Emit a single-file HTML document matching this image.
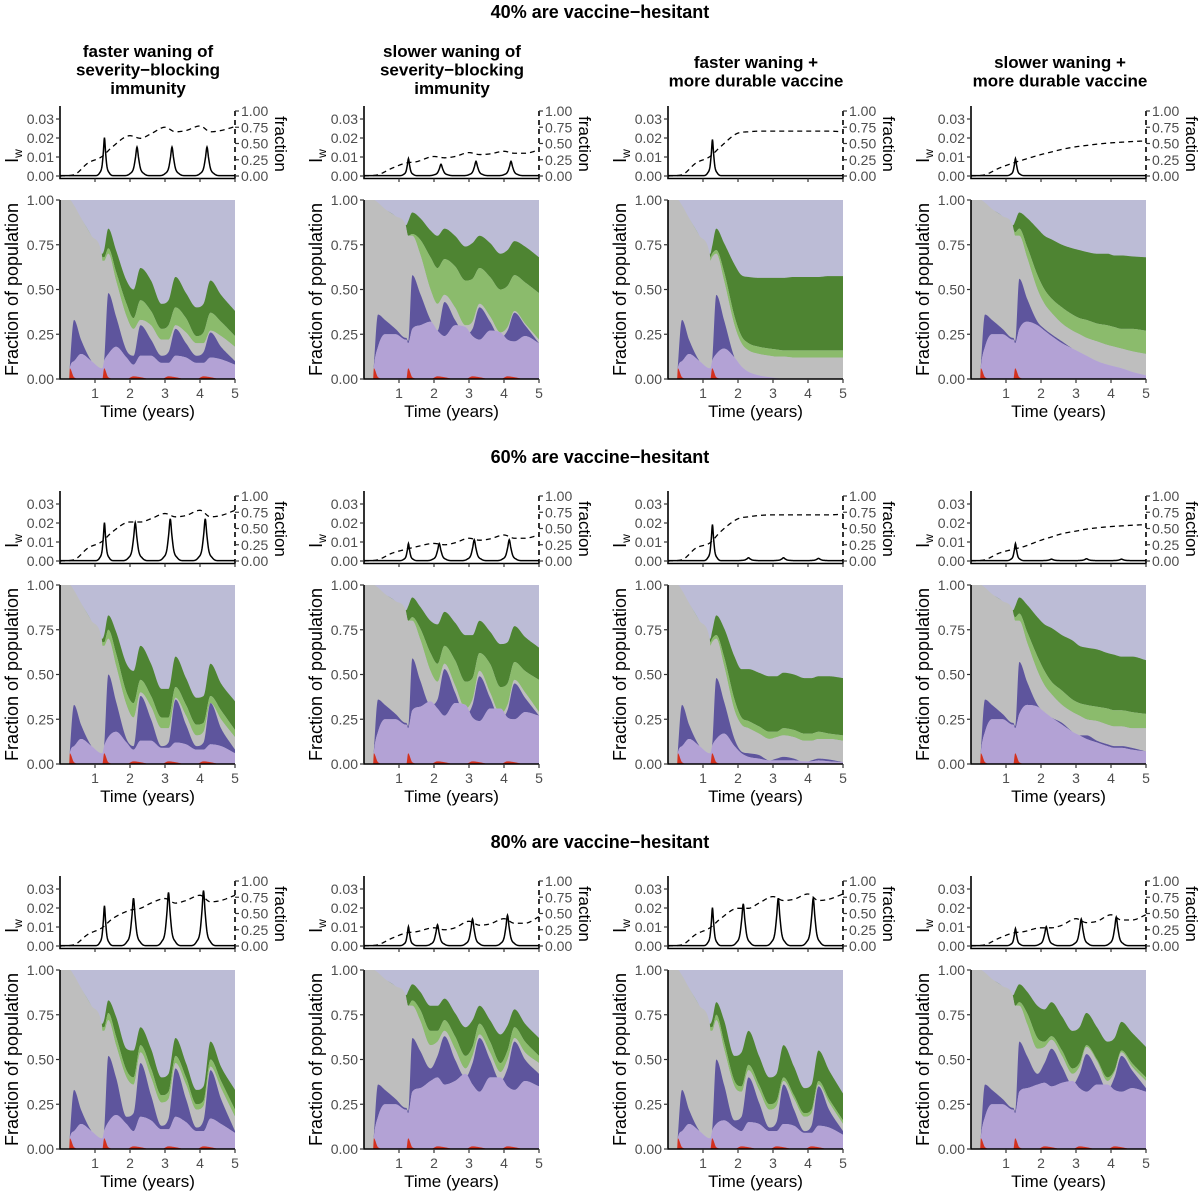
<!DOCTYPE html>
<html><head><meta charset="utf-8"><style>
body{margin:0;background:#fff}
svg{display:block;font-family:"Liberation Sans",sans-serif}
.rt{font-size:18px;font-weight:bold;text-anchor:middle}
.ch{font-size:17px;font-weight:bold;text-anchor:middle}
</style></head><body>
<svg id="chart" width="1200" height="1192" viewBox="0 0 1200 1192" xmlns="http://www.w3.org/2000/svg">
<rect width="1200" height="1192" fill="#fff"/>
<text class="rt" x="600" y="18">40% are vaccine−hesitant</text>
<text class="rt" x="600" y="463">60% are vaccine−hesitant</text>
<text class="rt" x="600" y="848">80% are vaccine−hesitant</text>
<text class="ch" x="148" y="57"><tspan x="148">faster waning of</tspan><tspan x="148" dy="18.5">severity−blocking</tspan><tspan x="148" dy="18.5">immunity</tspan></text>
<text class="ch" x="452" y="57"><tspan x="452">slower waning of</tspan><tspan x="452" dy="18.5">severity−blocking</tspan><tspan x="452" dy="18.5">immunity</tspan></text>
<text class="ch" x="756" y="68"><tspan x="756">faster waning +</tspan><tspan x="756" dy="18.5">more durable vaccine</tspan></text>
<text class="ch" x="1060" y="68"><tspan x="1060">slower waning +</tspan><tspan x="1060" dy="18.5">more durable vaccine</tspan></text>
</svg>
<script>
// ---- time grid for stacked areas ----
const T = [0,0.26,0.28,0.4,0.6,0.9,1.19,1.21,1.26,1.38,1.6,1.9,2.1,2.3,2.6,2.9,3.1,3.3,3.6,3.9,4.1,4.3,4.6,5.0];
// pre-1.2 values (first 7 grid points)
const redPre = [0,0,0.06,0.01,0,0,0];
const lpPreA = [0,0,0.06,0.10,0.14,0.10,0.06];
const dpPreA = [0,0,0.07,0.33,0.22,0.10,0.05];
const diagA  = [1,1,1,0.97,0.90,0.80,0.70];
const lpPreB = [0,0,0.06,0.18,0.25,0.25,0.22];
const dpPreB = [0,0,0.07,0.36,0.33,0.28,0.23];
const diagB  = [1,1,1,0.985,0.95,0.91,0.86];
// post values (17 grid points from 1.21)
const redPeriodic = [0,0.06,0.01,0,0,0.015,0.01,0,0,0.015,0.01,0,0,0.015,0.01,0,0];
const redSingle   = [0,0.06,0.01,0,0,0,0,0,0,0,0,0,0,0,0,0,0];

const lp_r1c1=[.06,.10,.14,.18,.12,.08,.13,.13,.09,.09,.13,.12,.09,.09,.12,.11,.08];
const dp_r1c1=[.05,.10,.48,.35,.16,.13,.30,.22,.13,.15,.28,.20,.13,.15,.26,.18,.10];
const gr_r1c1=[.66,.66,.70,.55,.35,.28,.33,.30,.22,.22,.30,.26,.20,.20,.27,.24,.18];
const lg_r1c1=[.68,.68,.73,.60,.42,.34,.44,.38,.28,.30,.40,.34,.24,.26,.37,.32,.24];
const dg_r1c1=[.70,.72,.84,.72,.55,.50,.62,.55,.42,.44,.57,.48,.40,.42,.55,.47,.38];

const lp_r1c2=[.22,.20,.28,.30,.32,.27,.24,.30,.29,.24,.22,.27,.26,.22,.21,.24,.20];
const dp_r1c2=[.23,.21,.58,.48,.33,.27,.43,.33,.25,.28,.40,.32,.23,.27,.37,.30,.20];
const gr_r1c2=[.84,.80,.80,.70,.50,.42,.47,.40,.30,.32,.42,.35,.26,.29,.38,.31,.22];
const lg_r1c2=[.84,.80,.81,.78,.68,.62,.67,.63,.55,.56,.62,.57,.50,.52,.58,.54,.48];
const dg_r1c2=[.86,.88,.93,.90,.83,.80,.84,.80,.74,.76,.80,.76,.70,.72,.77,.74,.68];

const lp_r1c3=[.06,.10,.14,.17,.12,.07,.04,.02,.01,.005,0,0,0,0,0,0,0];
const dp_r1c3=[.05,.10,.47,.33,.12,.06,.03,.01,.005,0,0,0,0,0,0,0,0];
const gr_r1c3=[.66,.68,.70,.55,.30,.20,.16,.14,.13,.125,.125,.12,.12,.12,.12,.12,.12];
const lg_r1c3=[.68,.70,.72,.60,.35,.24,.20,.18,.17,.165,.16,.16,.16,.16,.16,.16,.16];
const dg_r1c3=[.70,.74,.84,.76,.64,.58,.57,.565,.565,.565,.565,.57,.57,.57,.57,.575,.575];

const lp_r1c4=[.22,.20,.28,.32,.30,.27,.24,.20,.17,.15,.13,.10,.08,.07,.06,.04,.02];
const dp_r1c4=[.23,.21,.56,.45,.32,.28,.25,.21,.17,.15,.13,.10,.08,.07,.06,.04,.02];
const gr_r1c4=[.84,.80,.80,.68,.50,.42,.37,.31,.27,.25,.23,.21,.19,.18,.17,.155,.14];
const lg_r1c4=[.84,.82,.84,.74,.58,.50,.45,.40,.36,.34,.33,.31,.30,.29,.28,.28,.27];
const dg_r1c4=[.86,.88,.93,.90,.84,.80,.78,.75,.73,.72,.71,.70,.70,.69,.69,.685,.68];

const lp_r2c1=[.06,.10,.15,.18,.12,.08,.13,.13,.09,.09,.12,.11,.08,.08,.11,.10,.06];
const dp_r2c1=[.05,.10,.50,.35,.14,.10,.38,.25,.10,.12,.36,.22,.10,.12,.34,.20,.08];
const gr_r2c1=[.66,.66,.70,.55,.33,.26,.40,.32,.20,.20,.37,.27,.16,.18,.34,.25,.15];
const lg_r2c1=[.68,.68,.75,.62,.40,.34,.47,.38,.26,.26,.43,.33,.22,.23,.38,.30,.19];
const dg_r2c1=[.70,.72,.83,.74,.56,.52,.66,.56,.42,.42,.60,.48,.37,.38,.56,.45,.35];

const lp_r2c2=[.22,.20,.30,.32,.35,.31,.27,.34,.33,.26,.24,.31,.31,.26,.25,.29,.27];
const dp_r2c2=[.23,.21,.59,.47,.33,.36,.53,.40,.27,.33,.49,.37,.25,.30,.45,.37,.27];
const gr_r2c2=[.84,.80,.80,.70,.52,.46,.56,.44,.31,.36,.52,.40,.28,.33,.47,.40,.29];
const lg_r2c2=[.84,.80,.82,.76,.62,.56,.66,.58,.46,.48,.62,.56,.43,.45,.57,.52,.47];
const dg_r2c2=[.86,.88,.93,.88,.80,.78,.85,.79,.72,.72,.80,.74,.67,.68,.77,.71,.65];

const lp_r2c3=[.06,.10,.14,.17,.10,.06,.04,.03,.02,.02,.02,.02,.015,.015,.02,.015,.01];
const dp_r2c3=[.05,.10,.48,.35,.14,.07,.06,.05,.02,.03,.04,.03,.01,.02,.03,.025,.01];
const gr_r2c3=[.66,.68,.70,.55,.30,.22,.20,.17,.14,.15,.16,.15,.13,.13,.14,.14,.13];
const lg_r2c3=[.68,.70,.72,.60,.36,.26,.24,.21,.18,.18,.20,.19,.17,.17,.18,.17,.16];
const dg_r2c3=[.70,.74,.83,.76,.60,.53,.53,.51,.49,.49,.51,.50,.48,.48,.49,.49,.48];

const lp_r2c4=[.22,.20,.28,.33,.32,.29,.26,.22,.18,.16,.14,.12,.10,.09,.09,.08,.07];
const dp_r2c4=[.23,.21,.57,.46,.33,.29,.26,.23,.18,.16,.16,.13,.11,.10,.10,.09,.07];
const gr_r2c4=[.84,.80,.80,.68,.52,.44,.39,.33,.29,.27,.25,.24,.22,.21,.21,.20,.20];
const lg_r2c4=[.84,.82,.84,.74,.60,.52,.46,.41,.36,.34,.33,.32,.31,.30,.30,.29,.28];
const dg_r2c4=[.86,.88,.93,.89,.82,.78,.76,.72,.69,.66,.65,.64,.62,.61,.60,.60,.58];

const lp_r3c1=[.06,.10,.15,.19,.14,.10,.18,.16,.11,.11,.18,.15,.10,.10,.17,.14,.09];
const dp_r3c1=[.05,.10,.52,.40,.18,.20,.48,.30,.13,.17,.45,.28,.12,.16,.44,.28,.10];
const gr_r3c1=[.66,.66,.72,.58,.40,.36,.54,.40,.26,.28,.48,.36,.22,.24,.46,.34,.18];
const lg_r3c1=[.68,.68,.76,.63,.44,.40,.58,.45,.30,.32,.52,.40,.25,.27,.50,.38,.22];
const dg_r3c1=[.70,.72,.83,.74,.56,.55,.68,.56,.40,.42,.62,.48,.33,.35,.60,.46,.33];

const lp_r3c2=[.22,.20,.32,.34,.38,.40,.36,.38,.42,.36,.32,.40,.40,.35,.33,.38,.35];
const dp_r3c2=[.23,.21,.62,.55,.45,.52,.63,.50,.40,.48,.62,.50,.38,.45,.60,.50,.42];
const gr_r3c2=[.84,.80,.80,.72,.58,.60,.66,.56,.45,.52,.64,.54,.43,.50,.62,.54,.48];
const lg_r3c2=[.84,.80,.83,.78,.66,.66,.72,.63,.52,.57,.70,.60,.48,.55,.68,.60,.52];
const dg_r3c2=[.86,.88,.92,.88,.80,.80,.84,.76,.68,.72,.80,.72,.64,.69,.78,.70,.62];

const lp_r3c3=[.06,.10,.14,.16,.12,.10,.15,.14,.10,.10,.14,.13,.09,.09,.13,.12,.08];
const dp_r3c3=[.05,.10,.50,.36,.16,.18,.40,.26,.12,.15,.36,.22,.10,.13,.35,.22,.10];
const gr_r3c3=[.66,.66,.72,.56,.35,.32,.44,.33,.22,.24,.38,.28,.18,.20,.36,.26,.14];
const lg_r3c3=[.68,.68,.75,.60,.38,.35,.47,.36,.25,.27,.40,.30,.20,.22,.38,.28,.16];
const dg_r3c3=[.70,.72,.82,.72,.52,.54,.66,.52,.40,.42,.58,.46,.34,.36,.55,.44,.31];

const lp_r3c4=[.22,.20,.32,.34,.36,.37,.35,.37,.38,.34,.32,.36,.36,.33,.32,.34,.32];
const dp_r3c4=[.23,.21,.60,.52,.42,.48,.56,.46,.36,.42,.53,.44,.33,.40,.52,.44,.34];
const gr_r3c4=[.84,.80,.80,.70,.56,.57,.61,.52,.42,.46,.57,.49,.38,.43,.54,.46,.38];
const lg_r3c4=[.84,.80,.82,.76,.62,.60,.63,.55,.45,.48,.58,.50,.40,.44,.55,.48,.40];
const dg_r3c4=[.86,.88,.92,.88,.80,.78,.82,.74,.66,.68,.76,.68,.60,.62,.71,.65,.57];

// ---- top plots: I_w peaks (time, height) and fraction (dashed) ----
const peakShapeOffsets = [-0.36,-0.2,-0.1,-0.045,0,0.045,0.1,0.2,0.36];
const peakShapeRel     = [0,0.07,0.25,0.62,1,0.62,0.25,0.07,0];
const pkT_r1c1=[1.27,2.2,3.2,4.2], pkH_r1c1=[.020,.015,.015,.015];
const pkT_r1c2=[1.27,2.2,3.2,4.2], pkH_r1c2=[.009,.006,.0075,.0075];
const pkT_r1c3=[1.27], pkH_r1c3=[.019];
const pkT_r1c4=[1.27], pkH_r1c4=[.009];
const pkT_r2c1=[1.27,2.15,3.15,4.15], pkH_r2c1=[.020,.020,.022,.022];
const pkT_r2c2=[1.27,2.15,3.15,4.15], pkH_r2c2=[.009,.009,.011,.011];
const pkT_r2c3=[1.27,2.3,3.3,4.3], pkH_r2c3=[.019,.0015,.0015,.0012];
const pkT_r2c4=[1.27,2.3,3.3,4.3], pkH_r2c4=[.009,.0008,.001,.0008];
const pkT_r3c1=[1.27,2.1,3.1,4.1], pkH_r3c1=[.021,.025,.028,.029];
const pkT_r3c2=[1.27,2.1,3.1,4.1], pkH_r3c2=[.010,.011,.014,.016];
const pkT_r3c3=[1.27,2.15,3.15,4.15], pkH_r3c3=[.020,.022,.025,.025];
const pkT_r3c4=[1.27,2.15,3.15,4.15], pkH_r3c4=[.009,.010,.014,.015];

const TF = [0,0.4,0.8,1.2,1.5,2.0,2.3,2.6,3.0,3.3,3.6,4.0,4.3,4.6,5.0];
const fr_r1c1=[0,.02,.2,.3,.45,.62,.58,.65,.75,.68,.70,.77,.68,.70,.76];
const fr_r1c2=[0,.02,.12,.2,.22,.3,.28,.30,.36,.33,.34,.38,.35,.35,.40];
const fr_r1c3=[0,.02,.2,.3,.45,.66,.68,.69,.69,.69,.69,.69,.69,.69,.68];
const fr_r1c4=[0,.02,.12,.2,.25,.33,.37,.41,.45,.47,.49,.51,.52,.53,.54];
const fr_r2c1=[0,.02,.2,.3,.45,.6,.6,.65,.73,.68,.70,.78,.68,.70,.78];
const fr_r2c2=[0,.02,.12,.18,.22,.27,.25,.28,.35,.32,.34,.40,.35,.35,.40];
const fr_r2c3=[0,.02,.2,.28,.45,.65,.68,.70,.71,.71,.71,.71,.71,.71,.72];
const fr_r2c4=[0,.02,.12,.18,.22,.32,.37,.42,.46,.49,.51,.53,.54,.55,.56];
const fr_r3c1=[0,.02,.18,.28,.42,.55,.58,.66,.73,.66,.70,.78,.68,.70,.78];
const fr_r3c2=[0,.02,.12,.2,.22,.28,.25,.28,.38,.32,.34,.42,.35,.35,.45];
const fr_r3c3=[0,.02,.18,.28,.42,.58,.58,.66,.76,.70,.72,.80,.70,.72,.80];
const fr_r3c4=[0,.02,.12,.2,.22,.28,.28,.32,.42,.36,.38,.48,.40,.40,.48];

const mainTicks = [0,0.25,0.5,0.75,1];
const mainTickLabels = ["0.00","0.25","0.50","0.75","1.00"];
const iwTicks = [0,0.01,0.02,0.03];
const iwTickLabels = ["0.00","0.01","0.02","0.03"];
const frTickLabels = ["0.00","0.25","0.50","0.75","1.00"];
const timeTicks = [1,2,3,4,5];

const panels = [
 [lp_r1c1,dp_r1c1,gr_r1c1,lg_r1c1,dg_r1c1,pkT_r1c1,pkH_r1c1,fr_r1c1],
 [lp_r1c2,dp_r1c2,gr_r1c2,lg_r1c2,dg_r1c2,pkT_r1c2,pkH_r1c2,fr_r1c2],
 [lp_r1c3,dp_r1c3,gr_r1c3,lg_r1c3,dg_r1c3,pkT_r1c3,pkH_r1c3,fr_r1c3],
 [lp_r1c4,dp_r1c4,gr_r1c4,lg_r1c4,dg_r1c4,pkT_r1c4,pkH_r1c4,fr_r1c4],
 [lp_r2c1,dp_r2c1,gr_r2c1,lg_r2c1,dg_r2c1,pkT_r2c1,pkH_r2c1,fr_r2c1],
 [lp_r2c2,dp_r2c2,gr_r2c2,lg_r2c2,dg_r2c2,pkT_r2c2,pkH_r2c2,fr_r2c2],
 [lp_r2c3,dp_r2c3,gr_r2c3,lg_r2c3,dg_r2c3,pkT_r2c3,pkH_r2c3,fr_r2c3],
 [lp_r2c4,dp_r2c4,gr_r2c4,lg_r2c4,dg_r2c4,pkT_r2c4,pkH_r2c4,fr_r2c4],
 [lp_r3c1,dp_r3c1,gr_r3c1,lg_r3c1,dg_r3c1,pkT_r3c1,pkH_r3c1,fr_r3c1],
 [lp_r3c2,dp_r3c2,gr_r3c2,lg_r3c2,dg_r3c2,pkT_r3c2,pkH_r3c2,fr_r3c2],
 [lp_r3c3,dp_r3c3,gr_r3c3,lg_r3c3,dg_r3c3,pkT_r3c3,pkH_r3c3,fr_r3c3],
 [lp_r3c4,dp_r3c4,gr_r3c4,lg_r3c4,dg_r3c4,pkT_r3c4,pkH_r3c4,fr_r3c4]
];

const NS = "http://www.w3.org/2000/svg";
const svg = document.getElementById('chart');
const COLX = [60,364,668,971], PW = 175, PH = 179, ROWY = [200,585,970];

function mono(xs, ys) {
  const n = xs.length, d = [], m = new Array(n);
  for (let i=0;i<n-1;i++) d.push((ys[i+1]-ys[i])/(xs[i+1]-xs[i]));
  m[0]=d[0]; m[n-1]=d[n-2];
  for (let i=1;i<n-1;i++) m[i] = (d[i-1]*d[i]<=0) ? 0 : (d[i-1]+d[i])/2;
  for (let i=0;i<n-1;i++) {
    if (d[i]===0) { m[i]=0; m[i+1]=0; continue; }
    const a=m[i]/d[i], b=m[i+1]/d[i], s=a*a+b*b;
    if (s>9) { const t=3/Math.sqrt(s); m[i]=t*a*d[i]; m[i+1]=t*b*d[i]; }
  }
  return function(x) {
    let i=0; while (i<n-2 && x>xs[i+1]) i++;
    const h=xs[i+1]-xs[i], t=Math.min(1,Math.max(0,(x-xs[i])/h));
    const t2=t*t, t3=t2*t;
    return (2*t3-3*t2+1)*ys[i]+(t3-2*t2+t)*h*m[i]+(-2*t3+3*t2)*ys[i+1]+(t3-t2)*h*m[i+1];
  };
}
function mk(tag, attrs, parent) {
  const el = document.createElementNS(NS, tag);
  for (const k in attrs) el.setAttribute(k, attrs[k]);
  (parent||svg).appendChild(el);
  return el;
}
function txt(str, x, y, size, fill, anchor, name, extra) {
  const el = mk('text', {x:x, y:y, 'font-size':size, fill:fill, 'text-anchor':anchor}, null);
  
  
  if (extra) for (const k in extra) el.setAttribute(k, extra[k]);
  el.textContent = str;
  return el;
}
const SAMPLES = [];
for (let i=0;i<=500;i++) SAMPLES.push(i/100);
SAMPLES.push(0.265,0.275,1.195,1.205); SAMPLES.sort((a,b)=>a-b);

panels.forEach((p, idx) => {
  const r = Math.floor(idx/4), c = idx%4;
  const typeA = (c===0 || c===2);
  const periodic = !(c===2 || c===3) || r===2;
  const x0 = COLX[c], x1 = x0+PW, yT = ROWY[r], yB = yT+PH;
  const sx = t => x0 + t/5*PW;
  const sy = v => yB - v*PH;
  const g = mk('g', {});
  
  

  const diag = typeA ? diagA : diagB;
  const redA = redPre.concat(periodic ? redPeriodic : redSingle);
  const lpA = (typeA?lpPreA:lpPreB).concat(p[0]);
  const dpA = (typeA?dpPreA:dpPreB).concat(p[1]);
  const grA = diag.concat(p[2]);
  const lgA = diag.concat(p[3]);
  const dgA = diag.concat(p[4]);
  const fs = [redA, lpA, dpA, grA, lgA, dgA].map(a => mono(T, a));
  const vals = SAMPLES.map(t => fs.map(f => Math.max(0, Math.min(1, f(t)))));
  vals.forEach(v => { for (let k=1;k<v.length;k++) if (v[k]<v[k-1]) v[k]=v[k-1]; });

  const bg = mk('rect', {x:x0, y:yT, width:PW, height:PH, fill:'#bcbcd6'}, g);
  
  
  const layers = [
    ['area-dark-green', 4, 5, '#4e8432'],
    ['area-light-green', 3, 4, '#8bbb6c'],
    ['area-grey', 2, 3, '#bebebe'],
    ['area-dark-purple', 1, 2, '#5e559d'],
    ['area-light-purple', 0, 1, '#b3a2d5'],
    ['area-red', -1, 0, '#d3301e']
  ];
  layers.forEach(L => {
    let d = '';
    SAMPLES.forEach((t,i) => { d += (i?'L':'M') + sx(t).toFixed(2) + ',' + sy(vals[i][L[2]]).toFixed(2); });
    for (let i=SAMPLES.length-1;i>=0;i--) {
      const lo = L[1] < 0 ? 0 : vals[i][L[1]];
      d += 'L' + sx(SAMPLES[i]).toFixed(2) + ',' + sy(lo).toFixed(2);
    }
    const path = mk('path', {d:d+'Z', fill:L[3]}, g);
    
    
  });
  const ax = mk('path', {d:`M${x0},${yT}V${yB}H${x1}`, stroke:'#000', 'stroke-width':1.6, fill:'none'}, g);
  
  
  mainTicks.forEach((v,i) => {
    const tk = mk('line', {x1:x0-4, x2:x0, y1:sy(v), y2:sy(v), stroke:'#333', 'stroke-width':1.2}, g);
    
    
    txt(mainTickLabels[i], x0-6, sy(v)+5, 14, '#4d4d4d', 'end', 'y-tick-label');
  });
  timeTicks.forEach(t => {
    const tk = mk('line', {x1:sx(t), x2:sx(t), y1:yB, y2:yB+4, stroke:'#333', 'stroke-width':1.2}, g);
    
    
    txt(String(t), sx(t), yB+19, 14, '#4d4d4d', 'middle', 'x-tick-label');
  });
  txt('Time (years)', x0+PW/2, yB+38, 17, '#000', 'middle', 'x-axis-title');
  txt('Fraction of population', 0, 0, 18, '#000', 'middle', 'y-axis-title',
      {transform:`translate(${x0-42},${yT+PH/2}) rotate(-90)`});

  // ---- top plot ----
  const iy0 = yT-24, iy = v => iy0 - v*1900, fy = v => iy0 - v*65;
  const pkT = p[5], pkH = p[6];
  const pts = [[0,0.0002]];
  pkT.forEach((tp,k) => peakShapeOffsets.forEach((o,j) => pts.push([tp+o*(k===0?0.7:1), 0.0002+pkH[k]*peakShapeRel[j]])));
  pts.push([5,0.0002]);
  pts.sort((a,b)=>a[0]-b[0]);
  const ivf = mono(pts.map(q=>q[0]), pts.map(q=>q[1]));
  let di = '';
  SAMPLES.forEach((t,i) => { di += (i?'L':'M') + sx(t).toFixed(2) + ',' + iy(Math.max(0,ivf(t))).toFixed(2); });
  const ffn = mono(TF, p[7]);
  let df = '';
  SAMPLES.forEach((t,i) => { df += (i?'L':'M') + sx(t).toFixed(2) + ',' + fy(Math.max(0,ffn(t))).toFixed(2); });
  const fl = mk('path', {d:df, stroke:'#000', 'stroke-width':1.3, fill:'none', 'stroke-dasharray':'5,4'}, g);
  
  
  const il = mk('path', {d:di, stroke:'#000', 'stroke-width':1.5, fill:'none'}, g);
  
  
  const tax = mk('path', {d:`M${x0},${iy0-70}V${iy0+2.5}H${x1}`, stroke:'#000', 'stroke-width':1.6, fill:'none'}, g);
  
  
  const rax = mk('line', {x1:x1, x2:x1, y1:fy(1), y2:iy0+2.5, stroke:'#000', 'stroke-width':1.6, 'stroke-dasharray':'5,4'}, g);
  
  
  iwTicks.forEach((v,i) => {
    const tk = mk('line', {x1:x0-4, x2:x0, y1:iy(v), y2:iy(v), stroke:'#333', 'stroke-width':1.2}, g);
    
    
    txt(iwTickLabels[i], x0-6, iy(v)+5, 14, '#4d4d4d', 'end', 'iw-tick-label');
  });
  mainTicks.forEach((v,i) => {
    const tk = mk('line', {x1:x1, x2:x1+4, y1:fy(v), y2:fy(v), stroke:'#333', 'stroke-width':1.2}, g);
    
    
    txt(frTickLabels[i], x1+6, fy(v)+5, 14, '#4d4d4d', 'start', 'fraction-tick-label');
  });
  timeTicks.forEach(t => {
    const tk = mk('line', {x1:sx(t), x2:sx(t), y1:iy0+2.5, y2:iy0+6, stroke:'#333', 'stroke-width':1.2}, g);
    
    
  });
  const iwl = txt('I', 0, 0, 18, '#000', 'middle', 'iw-axis-title', {transform:`translate(${x0-42},${iy0-20}) rotate(-90)`});
  const sub = document.createElementNS(NS, 'tspan');
  
  
  sub.setAttribute('font-size', '12');
  sub.setAttribute('dy', '4');
  sub.textContent = 'w';
  iwl.appendChild(sub);
  txt('fraction', 0, 0, 17, '#000', 'middle', 'fraction-axis-title', {transform:`translate(${x1+40},${iy0-32}) rotate(90)`});
});
</script>
</body></html>
